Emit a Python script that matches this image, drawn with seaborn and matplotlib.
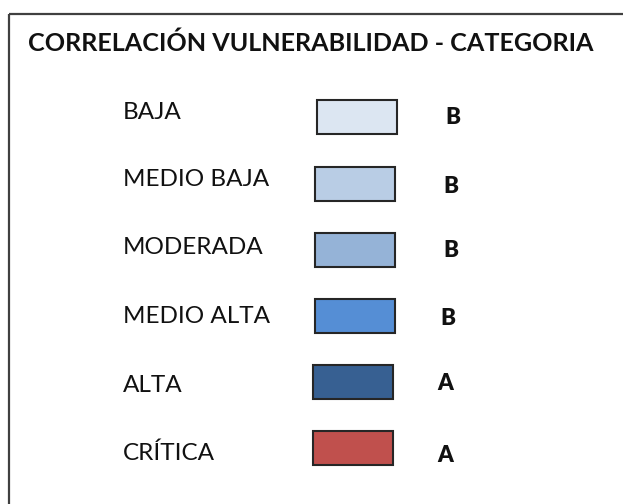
import matplotlib
matplotlib.use("Agg")
import matplotlib.pyplot as plt
import seaborn as sns

# Data
titulo = "CORRELACIÓN VULNERABILIDAD - CATEGORIA"
niveles = ["BAJA", "MEDIO BAJA", "MODERADA", "MEDIO ALTA", "ALTA", "CRÍTICA"]
colores = ["#DCE6F2", "#B9CDE5", "#95B3D7", "#558ED5", "#376092", "#C0504D"]
categorias = ["B", "B", "B", "B", "A", "A"]

# Layout (pixel coords)
row_base = [119, 186, 254, 323, 392, 460]
box_x = [317, 315, 315, 315, 313, 313]
box_y = [117, 183.5, 249.5, 315.5, 381.5, 447.5]
cat_x = [445, 443, 443, 440, 437, 437]
cat_base = [124, 193, 257, 325, 390, 462]

sns.set_theme(style="white")
plt.rcParams["font.family"] = ["Lato", "DejaVu Sans"]

fig = plt.figure(figsize=(6.23, 5.04), dpi=100)
ax = fig.add_axes([0, 0, 1, 1])
ax.set_xlim(0, 623)
ax.set_ylim(504, 0)
ax.axis("off")

# frame (cropped box: top and left sides only)
ax.plot([9, 623], [14, 14], color="#404040", lw=1.6, solid_capstyle="butt")
ax.plot([9, 9], [14, 504], color="#404040", lw=1.6, solid_capstyle="butt")

ax.text(28, 51, titulo, fontsize=18.1, fontweight="bold", color="#111111",
        va="baseline", ha="left")

ax.barh(box_y, 80, height=34, left=box_x, color=colores,
        edgecolor="#262626", linewidth=1.5)

for i, nivel in enumerate(niveles):
    ax.text(123, row_base[i], nivel, fontsize=17.5, color="#111111",
            va="baseline", ha="left")
    ax.text(cat_x[i], cat_base[i], categorias[i], fontsize=16, fontweight="heavy",
            color="#111111", va="baseline", ha="left")

fig.savefig("out.png", dpi=100)
